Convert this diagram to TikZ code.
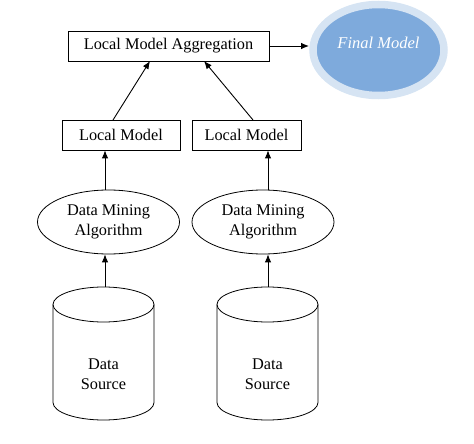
\documentclass[tikz,border=0pt]{standalone}
\usepackage{fontspec}
\setmainfont{Liberation Serif}
\usetikzlibrary{shapes.geometric,arrows.meta}
\definecolor{fmfill}{HTML}{7EAADC}
\definecolor{fmhalo}{HTML}{D6E4F3}
\tikzset{
  box/.style={draw, line width=0.8pt, inner sep=0pt, font=\fontsize{16.3}{19.5}\selectfont},
  oval/.style={ellipse, draw, line width=0.8pt, inner sep=0pt, align=center, font=\fontsize{16.3}{19.5}\selectfont},
  arr/.style={line width=0.9pt, -{Latex[length=8pt,width=6.5pt]}},
  lbl/.style={align=center, font=\fontsize{16.3}{19.5}\selectfont}
}
\begin{document}
\begin{tikzpicture}[x=1pt,y=1pt]
\useasboundingbox (0,0) rectangle (474,-444);
% aggregation box
\node[box, minimum width=201pt, minimum height=30pt] (agg) at (168.5,-46) {Local Model Aggregation};
% final model
\node[ellipse, fill=fmfill, draw=fmhalo, line width=7.5pt, minimum width=131pt, minimum height=91pt, inner sep=0pt] (final) at (378.5,-50) {};
\node[font=\fontsize{16.5}{19.5}\selectfont\itshape, text=white] (finaltext) at (378.5,-43) {Final Model};
% local models
\node[box, minimum width=118pt, minimum height=30pt] (lm1) at (121,-135) {Local Model};
\node[box, minimum width=109pt, minimum height=30pt] (lm2) at (246.5,-135) {Local Model};
% data mining
\node[oval, minimum width=142pt, minimum height=64pt] (dm1) at (108.5,-222) {Data Mining\\Algorithm};
\node[oval, minimum width=142pt, minimum height=64pt] (dm2) at (263,-222) {Data Mining\\Algorithm};
% cylinders
\draw[line width=0.8pt] (53,-304.5) -- (53,-402.5) arc[start angle=180, end angle=360, x radius=50.5, y radius=17.5] -- (154,-304.5);
\draw[line width=0.8pt] (103.5,-304.5) ellipse[x radius=50.5, y radius=17.5];
\node[lbl] (ds1) at (103.5,-374) {Data\\Source};
\coordinate (ds1top) at (105,-287);
\draw[line width=0.8pt] (217,-304.5) -- (217,-402.5) arc[start angle=180, end angle=360, x radius=50.5, y radius=17.5] -- (318,-304.5);
\draw[line width=0.8pt] (267.5,-304.5) ellipse[x radius=50.5, y radius=17.5];
\node[lbl] (ds2) at (267.5,-374) {Data\\Source};
\coordinate (ds2top) at (268,-287);
% connectors
\draw[arr] (ds1top) -- (ds1top |- dm1.south);
\draw[arr] (ds2top) -- (ds2top |- dm2.south);
\draw[arr] (ds1top |- dm1.north) -- (ds1top |- lm1.south);
\draw[arr] (ds2top |- dm2.north) -- (ds2top |- lm2.south);
\coordinate (a1) at (113,-120);
\coordinate (a2) at (253,-120);
\draw[arr] (a1) -- (150,-61);
\draw[arr] (a2) -- (204,-61);
\coordinate (fin) at (309,-46);
\draw[arr] (agg.east) -- (fin);
\end{tikzpicture}
\end{document}
